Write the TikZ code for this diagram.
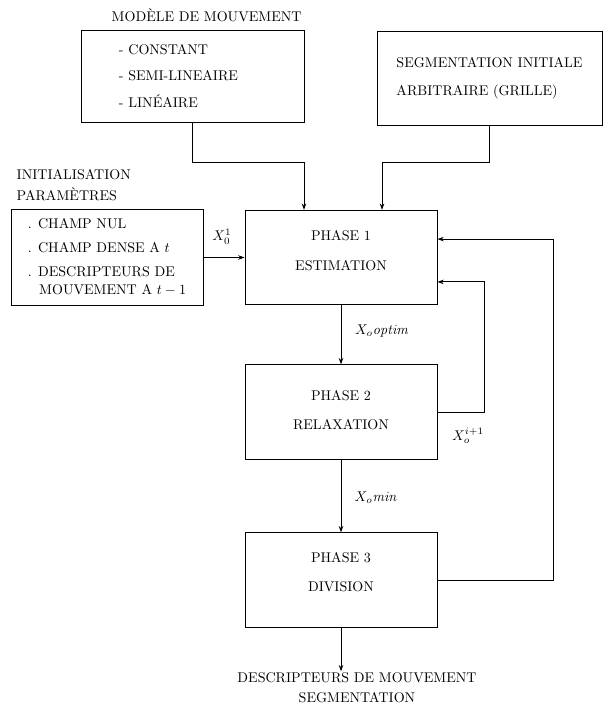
\documentclass[tikz,border=0pt]{standalone}
\usepackage{amsmath}
\usepackage{tikz}
\usetikzlibrary{arrows.meta,positioning}

\begin{document}
\begin{tikzpicture}[
  x=0.025cm, y=-0.025cm,
  font=\normalsize,
  % ---- boxes -------------------------------------------------------------
  box/.style={
    draw=black, line width=0.6pt, fill=white,
    align=center, inner sep=2pt},
  phase/.style={box, minimum width=4.80cm, minimum height=2.36cm},
  listbox/.style={box, align=left},
  % ---- texts -------------------------------------------------------------
  title/.style={anchor=west, inner sep=1pt},
  varlabel/.style={inner sep=1pt},
  % ---- edges -------------------------------------------------------------
  flow/.style={draw=black, line width=0.6pt, -{Stealth[length=4.5pt,width=3.2pt]}},
]

\useasboundingbox (0,0) rectangle (610,707);

% ---- inputs -----------------------------------------------------------------
\node[title] (modtitle) at (110,15) {MOD\`ELE DE MOUVEMENT};
\node[listbox, text width=3.675cm, inner xsep=0.95cm, minimum height=2.30cm]
  (model) at (192.5,76)
  {- CONSTANT\\[7pt]- SEMI-LINEAIRE\\[7pt]- LIN\'EAIRE};

\node[listbox, minimum width=5.625cm, minimum height=2.35cm] (seg) at (489.5,78)
  {SEGMENTATION INITIALE\\[8pt]ARBITRAIRE (GRILLE)};

\node[title] (inittitle) at (15,175) {INITIALISATION};
\node[title] (partitle)  at (15,194) {PARAM\`ETRES};
\node[listbox, minimum width=4.80cm, minimum height=2.40cm] (init) at (107,257.5)
  {. CHAMP NUL\\[5pt]. CHAMP DENSE A $t$\\[5pt]. DESCRIPTEURS DE\\[1pt]
   \hspace{0.8em}MOUVEMENT A $t-1$};

% ---- phases -----------------------------------------------------------------
% text sits a little above the middle of each box (text depth pushes it up)
\node[phase, text depth=0.35cm] (p1) at (341,257.5) {PHASE 1\\[9pt]ESTIMATION};
\node[phase, text depth=0.10cm] (p2) at (341,412)   {PHASE 2\\[9pt]RELAXATION};
\node[phase, text depth=0.40cm] (p3) at (341,580)   {PHASE 3\\[9pt]DIVISION};

\node[align=center, inner sep=1pt] (out) at (357,688)
  {DESCRIPTEURS DE MOUVEMENT\\[2pt]SEGMENTATION};

% ---- connectors -------------------------------------------------------------
\draw[flow] (model.south) -- ++(0,40) -| ([xshift=-0.925cm]p1.north);
\draw[flow] (seg.south)   -- ++(0,37) -| ([xshift=1.025cm]p1.north);
\draw[flow] (init.east) -- (p1.west);

\draw[flow] (p1) -- (p2);
\draw[flow] (p2) -- (p3);
\draw[flow] (p3.south) -- (p3.south |- out.north);

% feedback loops
\draw[flow] (p2.east) -- ++(47,0)  |- ([yshift=-0.61cm]p1.east);
\draw[flow] (p3.east) -- ++(116,0) |- ([yshift=0.46cm]p1.east);

% ---- labels -----------------------------------------------------------------
\node[varlabel] (x0)    at (222,237) {$X_0^1$};
\node[varlabel] (xopt)  at (382,331) {$X_o\mathit{optim}$};
\node[varlabel] (xnext) at (468,436) {$X_o^{i+1}$};
\node[varlabel] (xmin)  at (376,498) {$X_o\mathit{min}$};

\end{tikzpicture}
\end{document}
